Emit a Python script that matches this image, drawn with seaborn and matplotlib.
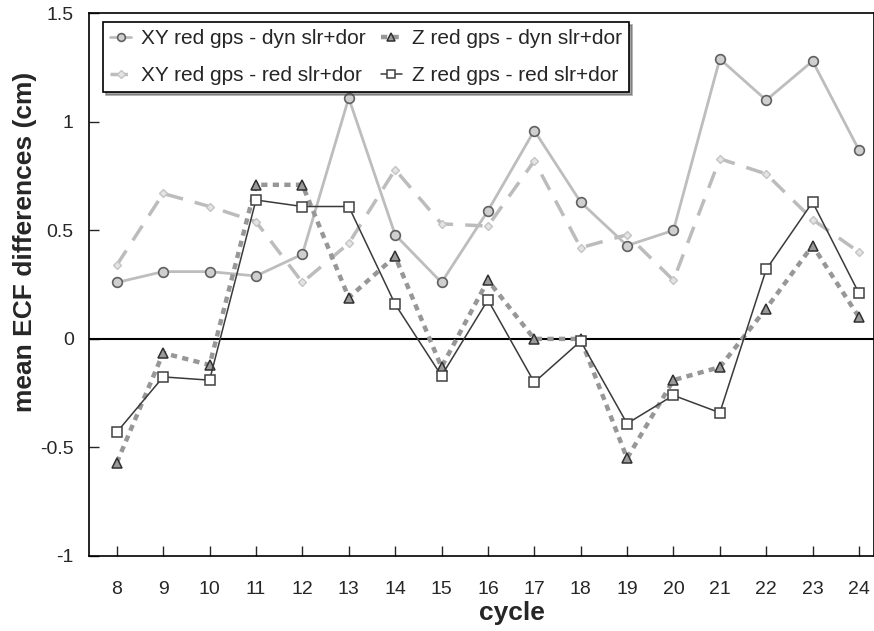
import numpy as np
import pandas as pd
import matplotlib
matplotlib.use("Agg")
import matplotlib.pyplot as plt
import seaborn as sns

cycles = list(range(8, 25))
xy_dyn = [0.26, 0.31, 0.31, 0.29, 0.39, 1.11, 0.48, 0.26, 0.59, 0.96, 0.63, 0.43, 0.50, 1.29, 1.10, 1.28, 0.87]
xy_red = [0.34, 0.67, 0.61, 0.54, 0.26, 0.44, 0.78, 0.53, 0.52, 0.82, 0.42, 0.48, 0.27, 0.83, 0.76, 0.55, 0.40]
z_dyn = [-0.57, -0.065, -0.12, 0.71, 0.71, 0.19, 0.38, -0.13, 0.27, 0.0, 0.0, -0.55, -0.19, -0.13, 0.14, 0.43, 0.10]
z_red = [-0.43, -0.175, -0.19, 0.64, 0.61, 0.61, 0.16, -0.17, 0.18, -0.20, -0.01, -0.39, -0.26, -0.34, 0.32, 0.63, 0.21]

labels = ["XY red gps - dyn slr+dor", "XY red gps - red slr+dor",
          "Z red gps - dyn slr+dor", "Z red gps - red slr+dor"]

sns.set_style("ticks")
plt.rcParams['font.family'] = ['Liberation Sans', 'DejaVu Sans']

fig = plt.figure(figsize=(8.74, 6.31), dpi=100)
ax = fig.add_axes([0.1018, 0.1189, 0.898, 0.860])

ax.axhline(0, color="black", lw=1.5, zorder=1)

# light grey solid line, circles
sns.lineplot(x=cycles, y=xy_dyn, ax=ax, color="#bdbdbd", lw=2,
             marker="o", markersize=7, markerfacecolor="#cfcfcf",
             markeredgecolor="#606060", markeredgewidth=1.2, label=labels[0], zorder=3)
# light grey dashed, small diamonds
sns.lineplot(x=cycles, y=xy_red, ax=ax, color="#bcbcbc", lw=2.5,
             marker="D", markersize=4.5, markerfacecolor="#e4e4e4",
             markeredgecolor="#c4c4c4", markeredgewidth=1, label=labels[1], zorder=2,
             linestyle=(0, (5, 3.5)))
# grey thick dotted, triangles
sns.lineplot(x=cycles, y=z_dyn, ax=ax, color="#979797", lw=3.2,
             marker="^", markersize=7, markerfacecolor="#9a9a9a",
             markeredgecolor="#303030", markeredgewidth=1.1, label=labels[2], zorder=3,
             linestyle=(0, (1.4, 1.2)))
# dark thin solid, squares
sns.lineplot(x=cycles, y=z_red, ax=ax, color="#3a3a3a", lw=1.1,
             marker="s", markersize=7, markerfacecolor="white",
             markeredgecolor="#404040", markeredgewidth=1.1, label=labels[3], zorder=4)

ax.set_xlim(7.40, 24.32)
ax.set_ylim(-1, 1.5)
ax.set_xticks(cycles)
ax.set_yticks([-1, -0.5, 0, 0.5, 1, 1.5])
ax.set_yticklabels(["-1", "-0.5", "0", "0.5", "1", "1.5"])
ax.tick_params(direction="in", labelsize=14, length=7, width=1)
ax.tick_params(axis="x", pad=18)
ax.tick_params(axis="y", pad=11)
for s in ax.spines.values():
    s.set_color("black")
    s.set_linewidth(1.2)

ax.set_xlabel("cycle", fontsize=19, fontweight="bold")
ax.set_ylabel("mean ECF differences (cm)", fontsize=19, fontweight="bold")
ax.xaxis.set_label_coords(0.539, -0.083)
ax.yaxis.set_label_coords(-0.066, 0.578)

handles, labs = ax.get_legend_handles_labels()
leg = ax.legend(handles, labs, ncol=2, loc="upper left", bbox_to_anchor=(0.0178, 0.984),
                borderaxespad=0, fontsize=15, frameon=True, fancybox=False, shadow=True,
                handlelength=1.0, handletextpad=0.5, columnspacing=0.7,
                labelspacing=0.85, borderpad=0.35, markerscale=0.8)
leg.get_frame().set_edgecolor("black")
leg.get_frame().set_linewidth(1.2)

fig.savefig("out.png", dpi=100)
